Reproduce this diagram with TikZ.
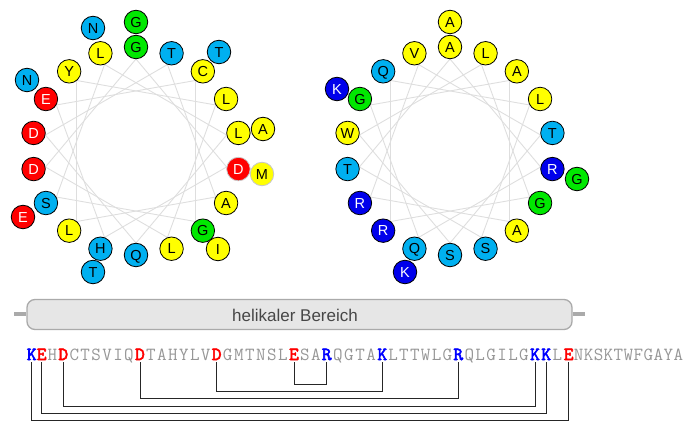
\documentclass[tikz,border=0pt]{standalone}
\usepackage{fontspec}
\setmainfont{Liberation Sans}
\newfontfamily\seqbold[FakeBold=3]{lmmono10-regular.otf}
\usetikzlibrary{calc}
\definecolor{cres}{RGB}{0,176,240}
\definecolor{yres}{RGB}{255,255,0}
\definecolor{gres}{RGB}{0,232,0}
\definecolor{rres}{RGB}{255,0,0}
\definecolor{bres}{RGB}{0,0,235}
\definecolor{chordcol}{RGB}{222,222,222}
\definecolor{seqgray}{RGB}{150,150,150}
\definecolor{barfill}{RGB}{230,230,230}
\definecolor{barline}{RGB}{170,170,170}
\definecolor{seqblue}{RGB}{0,0,255}
\tikzset{
  res/.style={circle, draw=black, line width=0.8pt, minimum size=23.5pt, inner sep=0pt,
    font=\fontsize{14.5}{14.5}\selectfont, text height=10.4pt, text depth=0pt},
  ry/.style={res, fill=yres},
  rc/.style={res, fill=cres},
  rg/.style={res, fill=gres},
  rr/.style={res, fill=rres, text=white},
  rb/.style={res, fill=bres, text=white},
  soft/.style={draw=black!22},
  rrs/.style={rr, soft},
  rys/.style={ry, soft},
  chord/.style={draw=chordcol, line width=0.9pt},
  sg/.style={inner sep=0pt, inner ysep=1.8pt, anchor=base, text=seqgray,
    font=\ttfamily\fontsize{18.5}{18.5}\selectfont},
  sbold/.style={sg, font=\seqbold\fontsize{18.5}{18.5}\selectfont},
  sb/.style={sbold, text=seqblue},
  sr/.style={sbold, text=rres},
  conn/.style={draw=black!85, line width=0.9pt},
  bar/.style={draw=barline, line width=1.3pt, fill=barfill, rounded corners=8pt,
    minimum width=545pt, minimum height=30pt, inner sep=0pt},
  stub/.style={draw=barline, line width=4pt},
  barlabel/.style={text=black!72, font=\fontsize{17}{17}\selectfont, inner sep=0pt}
}
\begin{document}
\begin{tikzpicture}[x=1pt,y=-1pt]
\useasboundingbox (0,0) rectangle (694,422);

% ---------- left helical wheel ----------
\foreach \i in {0,...,17}
  \coordinate (lp\i) at ({136+92*sin(20*\i)},{151-92*cos(20*\i)});
\foreach \i in {0,...,17}{
  \pgfmathtruncatemacro\j{mod(\i+5,18)}
  \draw[chord] (lp\i) -- (lp\j);
}
% outer residues behind
\node[rg] (LO0)   at (136,22)  {G};
\node[rc] (LO40)  at (219,52)  {T};
\node[rc] (LO200) at (93,272)  {T};
\node[rr] (LO240) at (23,217)  {E};
\node[rc] (LO300) at (27,80)   {N};
\node[rc] (LO340) at (93,28)   {N};
% inner ring
\foreach \a/\l/\s in {0/G/rg,20/T/rc,40/C/ry,60/L/ry,80/L/ry,100/D/rrs,120/A/ry,
  140/G/rg,160/L/ry,180/Q/rc,200/H/rc,220/L/ry,240/S/rc,260/D/rr,280/D/rr,300/E/rr,
  320/Y/ry,340/L/ry}
  \node[\s] (L\a) at ({136+104*sin(\a)},{151-104*cos(\a)}) {\l};
% outer residues in front
\node[ry] (LO80)  at (263,129) {A};
\node[rys] (LO100) at (262,174) {M};
\node[ry] (LO140) at (218,249) {I};

% ---------- right helical wheel ----------
\foreach \i in {0,...,17}
  \coordinate (rp\i) at ({450+92*sin(20*\i)},{151-92*cos(20*\i)});
\foreach \i in {0,...,17}{
  \pgfmathtruncatemacro\j{mod(\i+5,18)}
  \draw[chord] (rp\i) -- (rp\j);
}
\node[ry] (RO0)   at (450,22)  {A};
\node[rb] (RO300) at (337,89)  {K};
\foreach \a/\l/\s in {0/A/ry,20/L/ry,40/A/ry,60/L/ry,80/T/rc,100/R/rb,120/G/rg,
  140/A/ry,160/S/rc,180/S/rc,200/Q/rc,220/R/rb,240/R/rb,260/T/rc,280/W/ry,300/G/rg,
  320/Q/rc,340/V/ry}
  \node[\s] (R\a) at ({450+104*sin(\a)},{151-104*cos(\a)}) {\l};
\node[rg] (RO100) at (577,179) {G};
\node[rb] (RO200) at (405,272) {K};

% ---------- helical region bar ----------
\node[bar] (helix) at (299.5,314.5) {};
\node[barlabel] (helixlabel) at (295,315) {helikaler Bereich};
\draw[stub] (helix.west) -- ++(-12,0);
\draw[stub] (helix.east) -- ++(12,0);

% ---------- sequence ----------
\foreach \c/\x/\s [count=\k] in {K/31.7/sb,E/41.7/sr,H/52.5/sg,D/63.3/sr,C/74.3/sg,
  T/85.2/sg,S/96.2/sg,V/107.1/sg,I/118.1/sg,Q/129.0/sg,D/140.0/sr,T/151.0/sg,
  A/161.9/sg,H/172.9/sg,Y/183.8/sg,L/194.8/sg,V/205.7/sg,D/216.7/sr,G/227.7/sg,
  M/238.8/sg,T/249.8/sg,N/260.9/sg,S/271.9/sg,L/283.0/sg,E/294.0/sr,S/304.9/sg,
  A/315.8/sg,R/326.7/sb,Q/337.8/sg,G/348.9/sg,T/360.1/sg,A/371.2/sg,K/382.3/sb,
  L/393.2/sg,T/404.0/sg,T/414.9/sg,W/425.7/sg,L/436.6/sg,G/447.4/sg,R/458.3/sb,
  Q/469.3/sg,L/480.2/sg,G/491.2/sg,I/502.1/sg,L/513.1/sg,G/524.0/sg,K/535.0/sb,
  K/546.2/sb,L/557.5/sg,E/568.7/sr,N/578.7/sg,K/588.6/sg,S/598.6/sg,K/608.5/sg,
  T/618.5/sg,W/628.5/sg,F/638.4/sg,G/648.4/sg,A/658.4/sg,Y/668.3/sg,A/678.3/sg}
  \node[\s] (s\k) at (\x,360) {\c};

% ---------- salt-bridge connectors ----------
\coordinate (lv1) at (0,384);
\coordinate (lv2) at (0,391);
\coordinate (lv3) at (0,398.5);
\coordinate (lv4) at (0,406);
\coordinate (lv5) at (0,413.5);
\coordinate (lv6) at (0,420.8);
\draw[conn] (s25.south) -- (s25.south |- lv1) -| (s28.south);
\draw[conn] (s18.south) -- (s18.south |- lv2) -| (s33.south);
\draw[conn] (s11.south) -- (s11.south |- lv3) -| (s40.south);
\draw[conn] (s4.south)  -- (s4.south |- lv4)  -| (s47.south);
\draw[conn] (s2.south)  -- (s2.south |- lv5)  -| (s48.south);
\draw[conn] (s1.south)  -- (s1.south |- lv6)  -| (s50.south);
\end{tikzpicture}
\end{document}
